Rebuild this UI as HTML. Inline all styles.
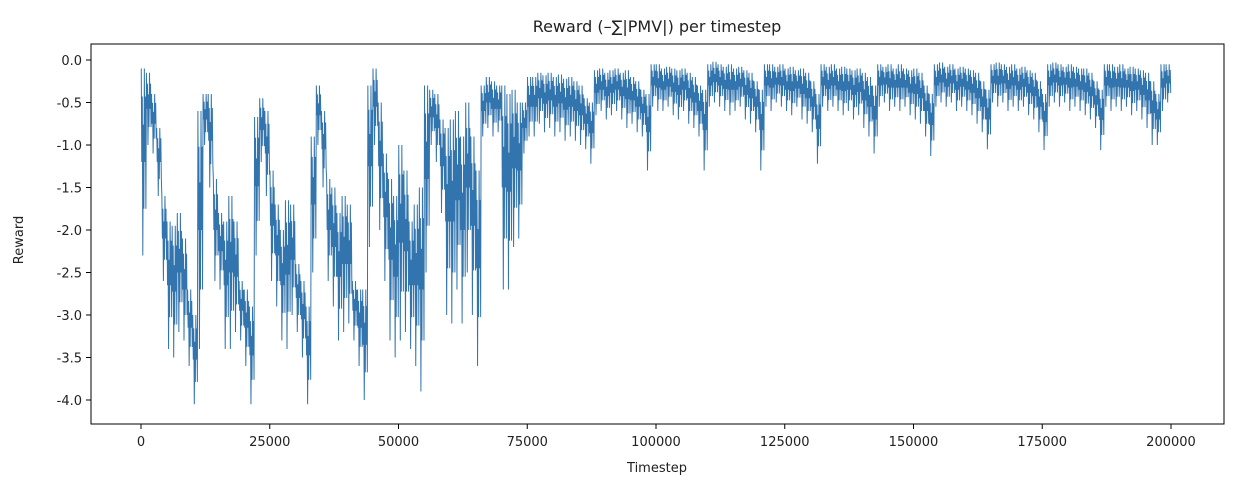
<!DOCTYPE html>
<html><head><meta charset="utf-8"><style>
body{margin:0;background:#fff;}
svg{display:block;font-family:"DejaVu Sans","Liberation Sans",sans-serif;}
</style></head><body>
<svg id="chart" width="1250" height="487" viewBox="0 0 1250 487" xmlns="http://www.w3.org/2000/svg">
<rect width="1250" height="487" fill="#fff"/>
<text x="657" y="32" font-size="16" text-anchor="middle" fill="#222">Reward (–∑|PMV|) per timestep</text>
<g id="xticks"></g>
<g id="yticks"></g>
<g id="series"></g>
<rect x="91" y="44" width="1133" height="380" fill="none" stroke="#000" stroke-width="1"/>
<text x="657" y="472" font-size="13" text-anchor="middle" fill="#222">Timestep</text>
<text transform="translate(23,240) rotate(-90)" font-size="13" text-anchor="middle" fill="#222">Reward</text>
</svg>
<script>
const binSize = 1000;
const hiValues = [
-0.1,-0.15,-0.4,-0.8,-1.6,-1.9,-1.95,-1.8,-2.1,-2.7,
-3.0,-0.6,-0.4,-0.4,-1.4,-1.8,-1.9,-1.6,-1.9,-2.6,
-2.7,-2.9,-0.67,-0.45,-0.6,-1.3,-1.7,-2.0,-1.65,-1.7,
-2.4,-2.6,-2.9,-0.9,-0.3,-0.6,-1.4,-1.5,-1.8,-1.6,
-1.7,-2.6,-2.7,-2.7,-0.3,-0.1,-0.5,-1.1,-1.4,-1.6,
-1.0,-1.3,-1.9,-1.7,-1.5,-0.3,-0.35,-0.4,-0.7,-0.8,
-0.7,-0.6,-0.9,-0.5,-0.9,-1.3,-0.3,-0.2,-0.25,-0.3,
-0.3,-0.4,-0.35,-0.5,-0.5,-0.2,
-0.2,-0.15,-0.18,-0.15,-0.2,-0.17,-0.22,-0.2,-0.25,-0.3,-0.45,
-0.5,
-0.12,-0.1,-0.15,-0.12,-0.1,-0.15,-0.12,-0.2,-0.25,-0.35,
-0.4,
-0.05,-0.05,-0.1,-0.08,-0.1,-0.12,-0.1,-0.15,-0.2,-0.3,
-0.35,
-0.05,-0.02,-0.05,-0.08,-0.05,-0.1,-0.08,-0.12,-0.15,-0.25,
-0.35,
-0.05,-0.05,-0.08,-0.05,-0.1,-0.08,-0.12,-0.1,-0.15,-0.25,
-0.4,
-0.05,-0.08,-0.05,-0.1,-0.08,-0.1,-0.12,-0.1,-0.15,-0.2,
-0.3,
-0.05,-0.08,-0.05,-0.1,-0.05,-0.1,-0.12,-0.1,-0.15,-0.3,
-0.4,
-0.05,-0.03,-0.08,-0.05,-0.1,-0.08,-0.1,-0.12,-0.15,-0.25,
-0.35,
-0.05,-0.03,-0.05,-0.08,-0.05,-0.1,-0.08,-0.12,-0.15,-0.25,
-0.4,
-0.05,-0.03,-0.05,-0.08,-0.05,-0.08,-0.1,-0.1,-0.15,-0.25,
-0.35,
-0.05,-0.05,-0.08,-0.05,-0.1,-0.08,-0.1,-0.12,-0.15,-0.25,
-0.4,
-0.05,-0.05
];
const loValues = [
-2.3,-1.0,-1.1,-1.6,-2.6,-3.4,-3.5,-3.2,-3.3,-3.6,
-4.05,-3.4,-1.0,-1.5,-2.6,-2.7,-3.4,-3.4,-3.2,-3.3,
-3.6,-4.05,-2.3,-1.2,-1.6,-2.6,-2.9,-3.3,-3.4,-3.0,
-3.2,-3.5,-4.05,-2.5,-1.0,-1.5,-2.6,-2.9,-3.3,-3.2,
-3.1,-3.3,-3.6,-4.0,-2.2,-1.0,-2.0,-2.6,-3.3,-3.5,
-3.3,-3.2,-3.4,-3.6,-3.9,-2.5,-1.0,-1.2,-1.8,-3.0,
-3.1,-2.7,-3.1,-2.5,-3.0,-3.6,-0.9,-0.8,-0.9,-0.85,
-2.7,-2.7,-2.2,-2.1,-1.1,-0.9,
-0.9,-0.75,-0.85,-0.8,-0.9,-0.85,-0.95,-0.9,-0.95,-1.0,-1.05,
-1.22,
-0.65,-0.6,-0.7,-0.65,-0.6,-0.7,-0.8,-0.75,-0.85,-0.9,
-1.3,
-0.55,-0.6,-0.6,-0.55,-0.65,-0.7,-0.6,-0.75,-0.8,-0.9,
-1.3,
-0.55,-0.5,-0.55,-0.6,-0.65,-0.6,-0.55,-0.7,-0.75,-0.85,
-1.3,
-0.55,-0.6,-0.5,-0.55,-0.6,-0.65,-0.55,-0.7,-0.75,-0.85,
-1.22,
-0.55,-0.6,-0.55,-0.6,-0.65,-0.6,-0.7,-0.65,-0.8,-0.9,
-1.1,
-0.55,-0.5,-0.6,-0.55,-0.6,-0.55,-0.65,-0.7,-0.75,-0.9,
-1.13,
-0.55,-0.5,-0.55,-0.5,-0.6,-0.55,-0.6,-0.65,-0.75,-0.85,
-1.05,
-0.5,-0.55,-0.5,-0.6,-0.55,-0.6,-0.55,-0.65,-0.7,-0.85,
-1.06,
-0.55,-0.5,-0.55,-0.5,-0.6,-0.55,-0.6,-0.65,-0.7,-0.8,
-1.06,
-0.55,-0.6,-0.55,-0.6,-0.55,-0.65,-0.6,-0.7,-0.8,-1.0,
-1.0,
-0.6,-0.5
];
const xTickValues = [0,25000,50000,75000,100000,125000,150000,175000,200000];
const yTickValues = [0.0,-0.5,-1.0,-1.5,-2.0,-2.5,-3.0,-3.5,-4.0];

const NS = "http://www.w3.org/2000/svg";
function xScale(t){ return 141 + (t/200000)*1030; }
function yScale(v){ return 60 + (0 - v)*85; }

const xg = document.getElementById('xticks');
xTickValues.forEach(t=>{
  const x = xScale(t);
  const l = document.createElementNS(NS,'line');
  
  
  l.setAttribute('x1',x);l.setAttribute('x2',x);l.setAttribute('y1',424);l.setAttribute('y2',429);
  l.setAttribute('stroke','#000');
  xg.appendChild(l);
  const tx = document.createElementNS(NS,'text');
  
  
  tx.setAttribute('x',x);tx.setAttribute('y',446);
  tx.setAttribute('font-size','13');tx.setAttribute('text-anchor','middle');tx.setAttribute('fill','#222');
  tx.textContent = String(t);
  xg.appendChild(tx);
});
const yg = document.getElementById('yticks');
yTickValues.forEach(v=>{
  const y = yScale(v);
  const l = document.createElementNS(NS,'line');
  
  
  l.setAttribute('x1',86);l.setAttribute('x2',91);l.setAttribute('y1',y);l.setAttribute('y2',y);
  l.setAttribute('stroke','#000');
  yg.appendChild(l);
  const tx = document.createElementNS(NS,'text');
  
  
  tx.setAttribute('x',82);tx.setAttribute('y',y+5);
  tx.setAttribute('font-size','13');tx.setAttribute('text-anchor','end');tx.setAttribute('fill','#222');
  tx.textContent = v.toFixed(1);
  yg.appendChild(tx);
});

const sg = document.getElementById('series');
let pts = [];
for(let i=0;i<hiValues.length;i++){
  const t0 = i*binSize;
  const hi = hiValues[i], lo = loValues[i];
  const mid = (hi + lo) / 2;
  const deep = hi*0.25 + lo*0.75;
  const h2 = hi*0.85 + lo*0.15;
  const h3 = hi*0.7 + lo*0.3;
  const seq = [hi, mid, h2, lo, h3, deep, hi, mid, h2, deep];
  for(let k=0;k<seq.length;k++){
    pts.push(xScale(t0 + binSize*(k+0.5)/seq.length).toFixed(2)+','+yScale(seq[k]).toFixed(2));
  }
}
const pl = document.createElementNS(NS,'polyline');


pl.setAttribute('points',pts.join(' '));
pl.setAttribute('fill','none');
pl.setAttribute('stroke','#3274ad');
pl.setAttribute('stroke-width','1');
pl.setAttribute('stroke-linejoin','miter');
sg.appendChild(pl);
</script>
</body></html>
